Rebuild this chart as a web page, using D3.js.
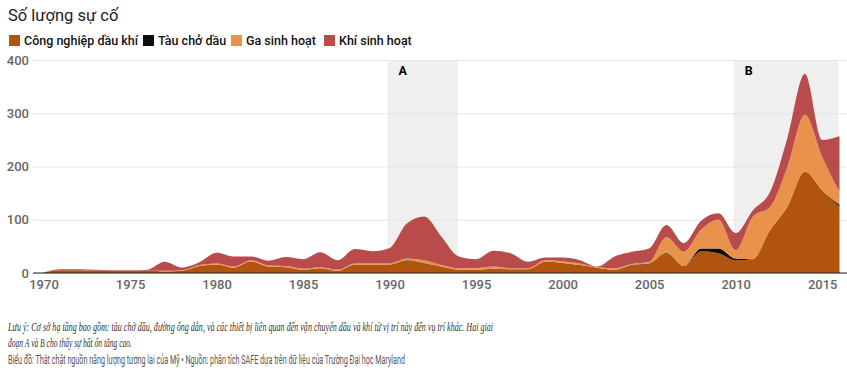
<!DOCTYPE html>
<html><head><meta charset="utf-8">
<script src="https://cdn.jsdelivr.net/npm/d3@7"></script>
<style>
html,body{margin:0;padding:0;background:#fff;}
svg{display:block;}
</style></head>
<body>
<svg id="chart" width="847" height="380"></svg>
<script>
const years = d3.range(1970, 2017);
// Công nghiệp dầu khí
const congNghiep = [1,5,5,4,4,4,4,3,4,13,16,10,22,12,11,6,9,4,16,16,16,23,19,12,6,6,8,7,7,21,19,15,10,6,14,17,37,13,41,37,24,26,81,125,190,155,125];
// Tàu chở dầu
const tauChoDau = [0,0,0,0,0,0,0,0,0,0,0,0,0,0,0,0,0,0,0,0,0,1,0,0,0,0,0,0,0,0,0,0,0,0,1,1,1,0,5,9,3,0,0,0,0,0,3];
// Ga sinh hoạt
const gaSinhHoat = [0,0,0,0,0,0,0,1,1,2,2,2,2,2,2,2,2,2,2,2,2,3,5,3,3,3,4,2,2,3,3,3,1,3,2,3,29,27,35,54,16,80,44,75,107,63,25];
// Khí sinh hoạt
const khiSinhHoat = [0,2,2,2,1,1,2,17,5,5,20,19,7,9,17,18,28,18,27,23,29,66,82,53,22,17,30,28,12,5,7,6,1,22,23,25,23,16,17,12,32,12,28,55,77,32,104];

const seriesNames = ["Công nghiệp dầu khí", "Tàu chở dầu", "Ga sinh hoạt", "Khí sinh hoạt"];
const seriesColors = ["#b0540f", "#0d0d12", "#e8924c", "#b94b4a"];
const yTicks = [0, 100, 200, 300, 400];
const xTicks = [1970, 1975, 1980, 1985, 1990, 1995, 2000, 2005, 2010, 2015];
const bands = [{label: "A", from: 1990, to: 1994}, {label: "B", from: 2010, to: 2016}];
const title = "Số lượng sự cố";
const note1 = "Lưu ý: Cơ sở hạ tầng bao gồm: tàu chở dầu, đường ống dẫn, và các thiết bị liên quan đến vận chuyển dầu và khí từ vị trí này đến vụ trí khác. Hai giai";
const note2 = "đoạn A và B cho thấy sự bất ổn tăng cao.";
const source = "Biểu đồ: Thắt chặt nguồn năng lượng tương lai của Mỹ • Nguồn: phân tích SAFE dựa trên dữ liệu của Trường Đại học Maryland";

const keys = ["cn", "tau", "ga", "khi"];
const table = years.map((y, i) => ({year: y, cn: congNghiep[i], tau: tauChoDau[i], ga: gaSinhHoat[i], khi: khiSinhHoat[i]}));

const svg = d3.select("#chart");
const x = d3.scaleLinear().domain([1970, 2016]).range([43.5, 839.5]);
const y = d3.scaleLinear().domain([0, 400]).range([273, 60]);
const gridLeft = 33, gridRight = 847;

// title
svg.append("text").attr("x", 8).attr("y", 21).attr("font-family", "Roboto, Arial, sans-serif")
  .attr("font-size", 16.5).attr("fill", "#222").text(title);

// legend
const legendX = [9, 143, 231, 324];
seriesNames.forEach((n, i) => {
  const g = svg.append("g").attr("transform", `translate(${legendX[i]},35)`);
  g.append("rect").attr("width", 11).attr("height", 11).attr("fill", seriesColors[i]);
  g.append("text").attr("x", 15).attr("y", 10).attr("font-family", "Roboto, Arial, sans-serif")
    .attr("font-weight", 500).attr("font-size", 12.5).attr("fill", "#111").text(n);
});

// bands
bands.forEach(b => {
  svg.append("rect").attr("x", x(b.from) - 2).attr("y", y(400)).attr("width", x(b.to) - x(b.from) + 1)
    .attr("height", y(0) - y(400)).attr("fill", "#efefef");
  svg.append("text").attr("x", x(b.from) + 13).attr("y", 75).attr("text-anchor", "middle")
    .attr("font-family", "Roboto, Arial, sans-serif").attr("font-weight", 700).attr("font-size", 12.5)
    .attr("fill", "#000").text(b.label);
});

// gridlines
const yAxis = d3.axisLeft(y).tickValues(yTicks).tickSize(-(gridRight - gridLeft)).tickPadding(4);
const gy = svg.append("g").attr("transform", `translate(${gridLeft},0)`).call(yAxis);
gy.select(".domain").remove();
gy.selectAll(".tick line").attr("stroke", "#e6e6e6").attr("stroke-width", 1);
gy.selectAll(".tick text").attr("font-family", "Roboto, Arial, sans-serif").attr("font-size", 13)
  .attr("font-weight", 500).attr("fill", "#666").attr("x", -4);

// stacked areas
const stack = d3.stack().keys(keys);
const layers = stack(table);
const area = d3.area().x(d => x(d.data.year)).y0(d => y(d[0])).y1(d => y(d[1])).curve(d3.curveMonotoneX);
svg.append("g").selectAll("path").data(layers).join("path")
  .attr("d", area).attr("fill", (d, i) => seriesColors[i]);

// baseline
svg.append("line").attr("x1", gridLeft).attr("x2", gridRight).attr("y1", y(0)).attr("y2", y(0))
  .attr("stroke", "#222").attr("stroke-width", 1.2);

// x axis
const xAxis = d3.axisBottom(x).tickValues(xTicks).tickFormat(d3.format("d")).tickSize(0).tickPadding(7);
const gx = svg.append("g").attr("transform", `translate(0,${y(0)})`).call(xAxis);
gx.select(".domain").remove();
gx.selectAll(".tick text").attr("font-family", "Roboto, Arial, sans-serif").attr("font-size", 13)
  .attr("font-weight", 500).attr("fill", "#666");

// notes
svg.append("text").attr("x", 8).attr("y", 331).attr("font-family", "'Liberation Serif', 'Times New Roman', serif")
  .attr("font-style", "italic").attr("font-size", 13).attr("fill", "#333")
  .attr("textLength", 485).attr("lengthAdjust", "spacingAndGlyphs").text(note1);
svg.append("text").attr("x", 8).attr("y", 347).attr("font-family", "'Liberation Serif', 'Times New Roman', serif")
  .attr("font-style", "italic").attr("font-size", 13).attr("fill", "#333")
  .attr("textLength", 124).attr("lengthAdjust", "spacingAndGlyphs").text(note2);
svg.append("text").attr("x", 8).attr("y", 364).attr("font-family", "Roboto, Arial, sans-serif")
  .attr("font-size", 12).attr("fill", "#555")
  .attr("textLength", 397).attr("lengthAdjust", "spacingAndGlyphs").text(source);
</script>
</body></html>
